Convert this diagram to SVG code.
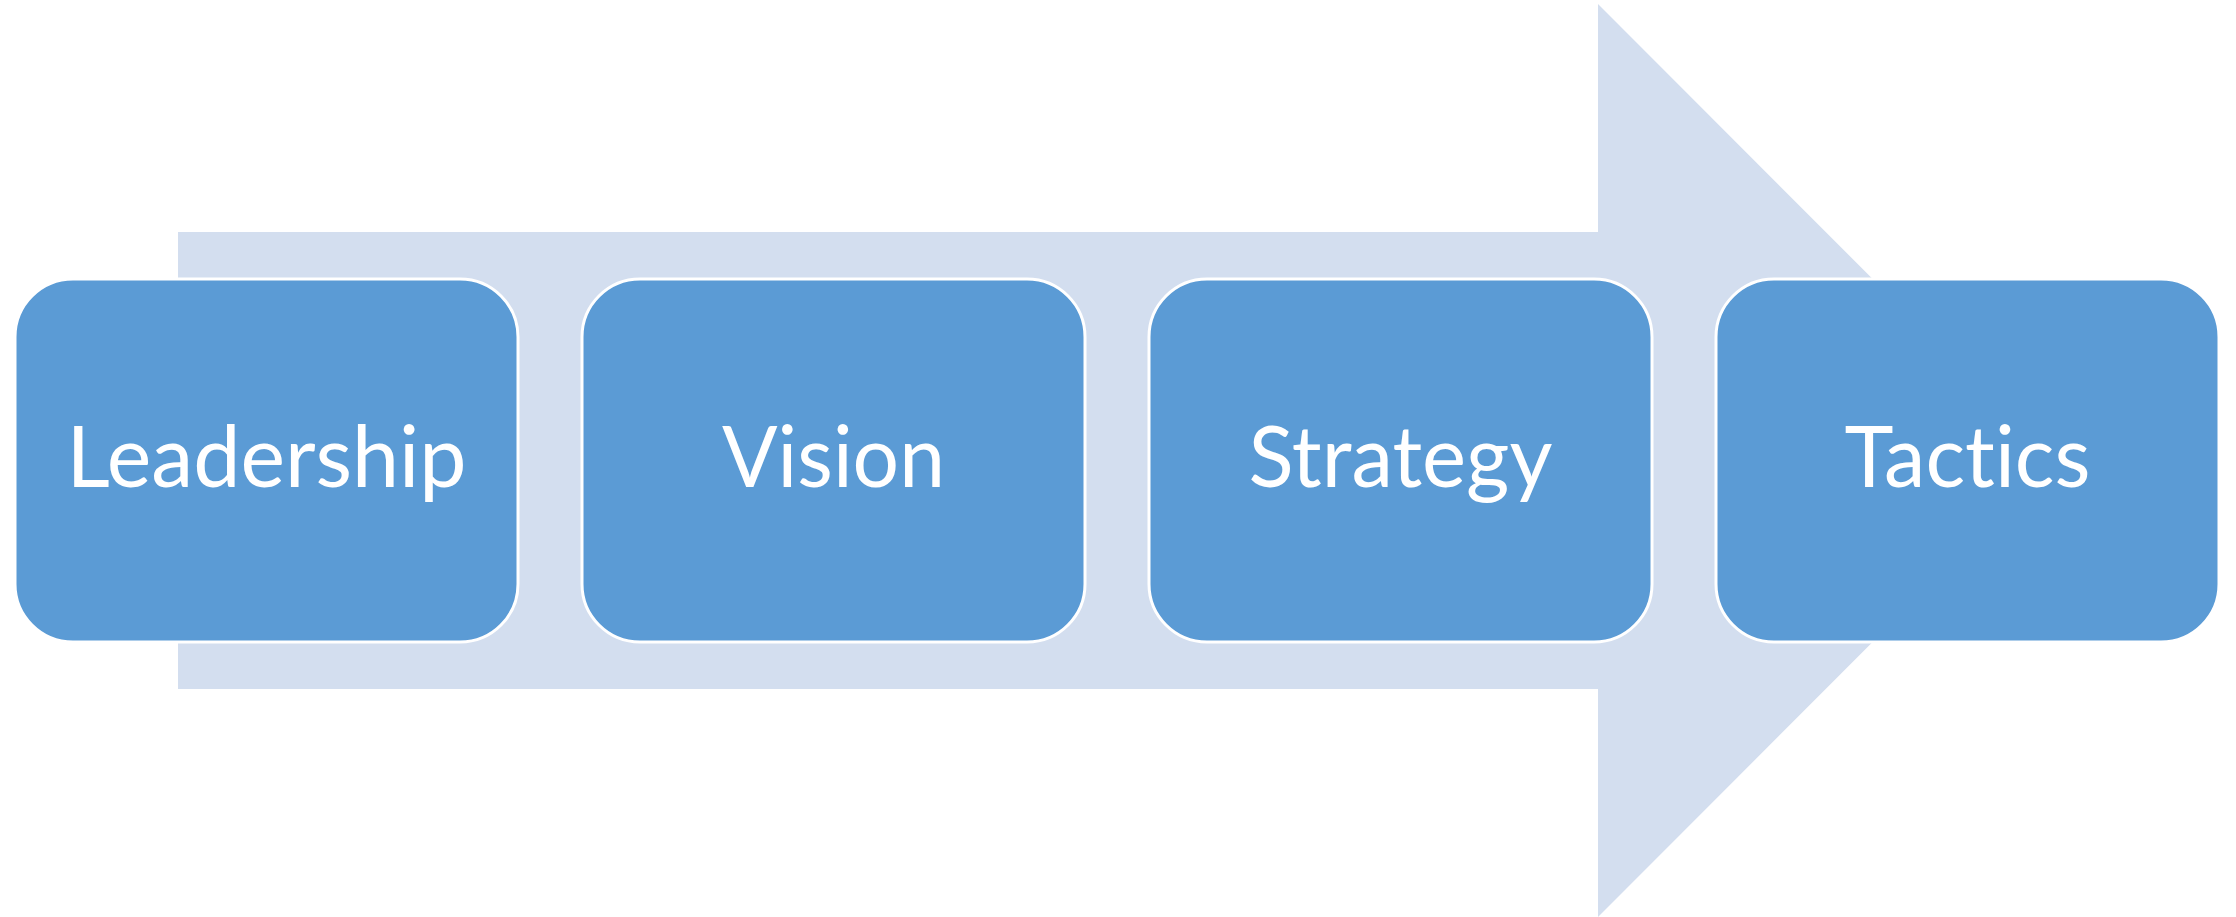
<svg xmlns="http://www.w3.org/2000/svg" width="2236" height="917" viewBox="0 0 2236 917">
<style>
.arrow{fill:#D3DEEF}
.box{fill:#5B9BD5;stroke:#FFFFFF;stroke-width:3}
.lbl{fill:#FFFFFF;font-family:Lato,"Open Sans","Liberation Sans",sans-serif;font-size:85px;text-anchor:middle;font-variant-ligatures:none;font-feature-settings:"liga" 0,"dlig" 0}
</style>
<rect width="2236" height="917" fill="#FFFFFF"/>
<g id="arrow">
<polygon class="arrow" points="178,232 1598,232 1598,4 2054,460.5 1598,917 1598,689 178,689"/>
</g>
<g id="connectors"></g>
<g id="node-leadership">
<rect class="box" x="15" y="279" width="503" height="363" rx="58" ry="58"/>
<text class="lbl" x="266.5" y="487" textLength="400" lengthAdjust="spacingAndGlyphs">Leadership</text>
</g>
<g id="node-vision">
<rect class="box" x="582" y="279" width="503" height="363" rx="58" ry="58"/>
<text class="lbl" x="833.5" y="487" textLength="223" lengthAdjust="spacingAndGlyphs">Vision</text>
</g>
<g id="node-strategy">
<rect class="box" x="1149" y="279" width="503" height="363" rx="58" ry="58"/>
<text class="lbl" x="1400.5" y="487" textLength="304" lengthAdjust="spacingAndGlyphs">Strategy</text>
</g>
<g id="node-tactics">
<rect class="box" x="1716" y="279" width="503" height="363" rx="58" ry="58"/>
<text class="lbl" x="1967.5" y="487" textLength="246" lengthAdjust="spacingAndGlyphs">Tactics</text>
</g>
</svg>
